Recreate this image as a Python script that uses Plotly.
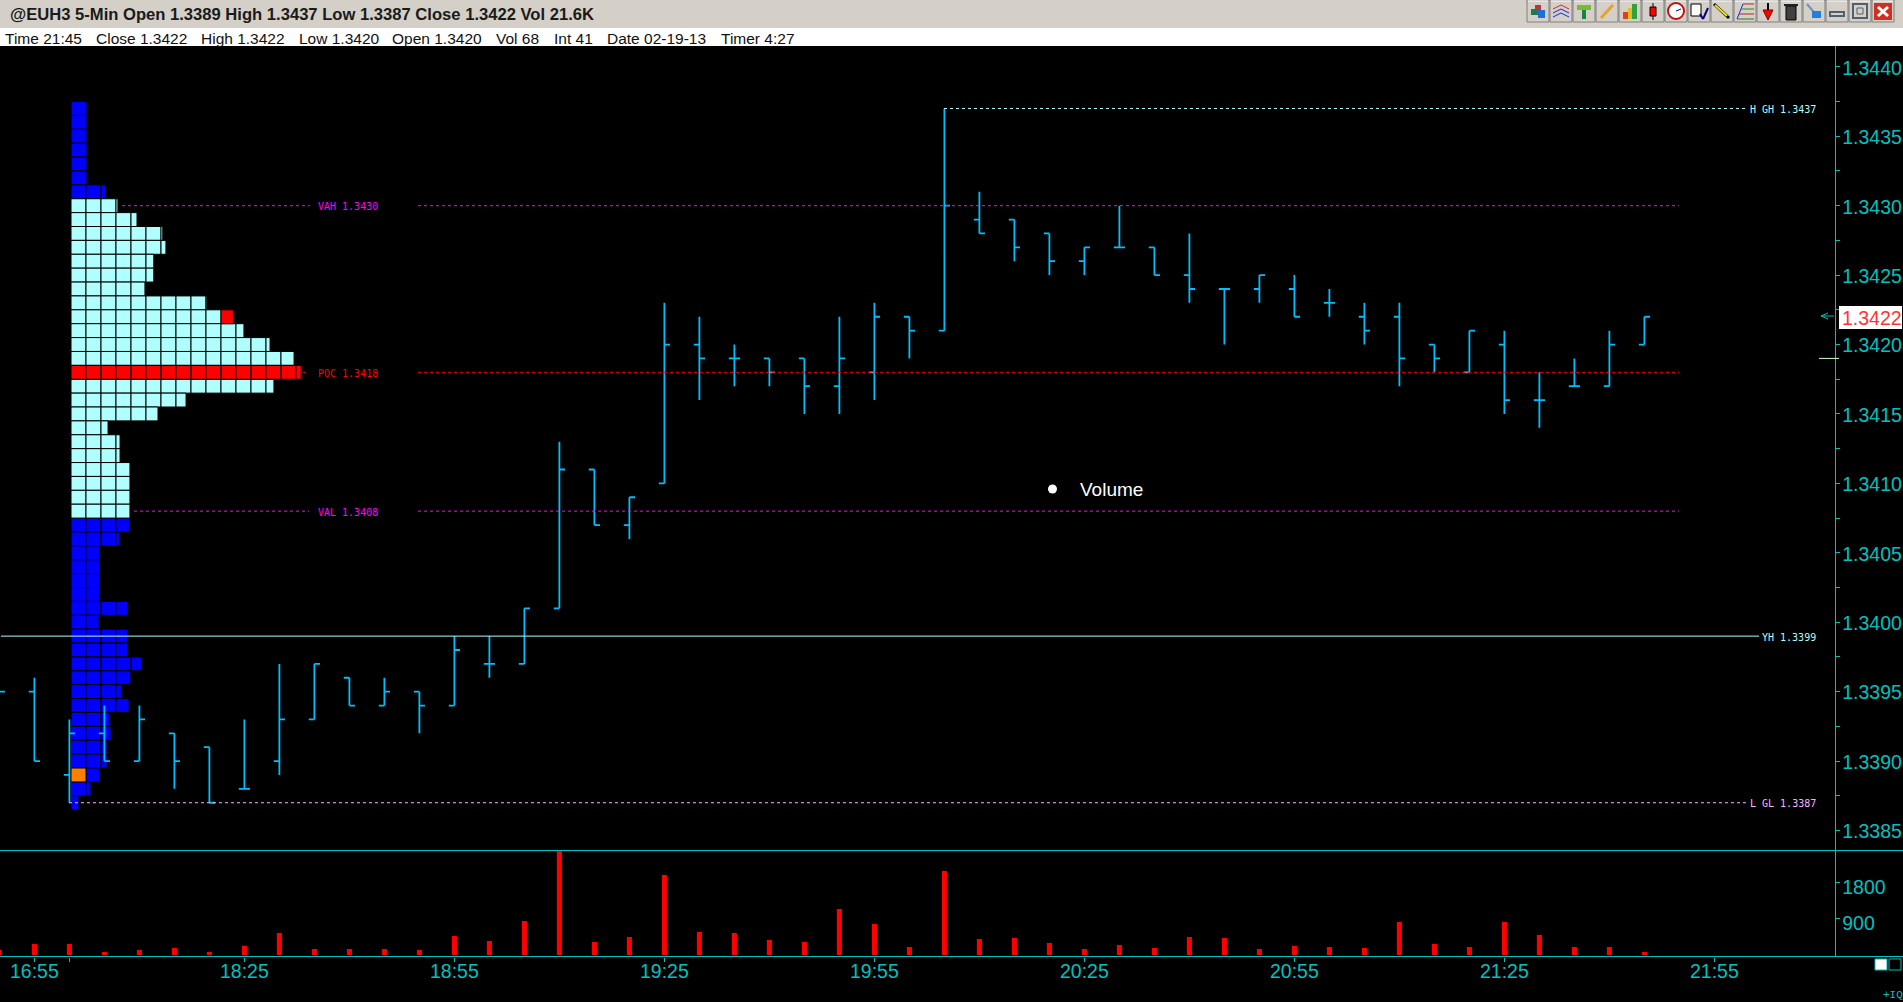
import plotly.graph_objects as go

W = 1903
H = 1002

# bars, one per 5 minute slot on the chart (index -1 is cut off by the left edge)
bar_index = [-1, 0, 1, 2, 3, 4, 5, 6, 7, 8, 9, 10, 11, 12, 13, 14, 15, 16, 17, 18, 19, 20, 21, 22, 23,
             24, 25, 26, 27, 28, 29, 30, 31, 32, 33, 34, 35, 36, 37, 38, 39, 40, 41, 42, 43, 44, 45, 46]
opens = [1.3395, 1.3395, 1.3389, 1.3392, 1.3390, 1.3392, 1.3391, 1.3388, 1.3390, 1.3393, 1.3396, 1.3394,
         1.3395, 1.3394, 1.3397, 1.3397, 1.3401, 1.3411, 1.3407, 1.3410, 1.3420, 1.3419, 1.3419, 1.3419,
         1.3417, 1.3418, 1.3422, 1.3421, 1.3429, 1.3429, 1.3428, 1.3426, 1.3427, 1.3427, 1.3425, 1.3424,
         1.3424, 1.3424, 1.3423, 1.3422, 1.3422, 1.3420, 1.3418, 1.3420, 1.3416, 1.3417, 1.3417, 1.3420]
highs = [1.3395, 1.3396, 1.3393, 1.3394, 1.3394, 1.3392, 1.3391, 1.3393, 1.3397, 1.3397, 1.3396, 1.3396,
         1.3395, 1.3399, 1.3399, 1.3401, 1.3413, 1.3411, 1.3409, 1.3423, 1.3422, 1.3420, 1.3419, 1.3419,
         1.3422, 1.3423, 1.3422, 1.3437, 1.3431, 1.3429, 1.3428, 1.3427, 1.3430, 1.3427, 1.3428, 1.3424,
         1.3425, 1.3425, 1.3424, 1.3423, 1.3423, 1.3420, 1.3421, 1.3421, 1.3418, 1.3419, 1.3421, 1.3422]
lows = [1.3395, 1.3390, 1.3387, 1.3390, 1.3390, 1.3388, 1.3387, 1.3388, 1.3389, 1.3393, 1.3394, 1.3394,
        1.3392, 1.3394, 1.3396, 1.3397, 1.3401, 1.3407, 1.3406, 1.3410, 1.3416, 1.3417, 1.3417, 1.3415,
        1.3415, 1.3416, 1.3419, 1.3421, 1.3428, 1.3426, 1.3425, 1.3425, 1.3427, 1.3425, 1.3423, 1.3420,
        1.3423, 1.3422, 1.3422, 1.3420, 1.3417, 1.3418, 1.3418, 1.3415, 1.3414, 1.3417, 1.3417, 1.3420]
closes = [1.3395, 1.3390, 1.3392, 1.3390, 1.3393, 1.3390, 1.3387, 1.3388, 1.3393, 1.3397, 1.3394, 1.3395,
          1.3394, 1.3398, 1.3397, 1.3401, 1.3411, 1.3407, 1.3409, 1.3420, 1.3419, 1.3419, 1.3418, 1.3417,
          1.3419, 1.3422, 1.3421, 1.3430, 1.3428, 1.3427, 1.3426, 1.3427, 1.3427, 1.3425, 1.3424, 1.3424,
          1.3425, 1.3422, 1.3423, 1.3421, 1.3419, 1.3419, 1.3421, 1.3416, 1.3416, 1.3417, 1.3420, 1.3422]
volumes = [125, 275, 275, 75, 125, 175, 75, 225, 550, 150, 150, 150, 125, 475, 350, 850, 2600, 325, 450,
           2000, 575, 550, 375, 325, 1150, 775, 200, 2100, 400, 425, 300, 150, 250, 175, 450, 425, 150,
           225, 200, 175, 825, 275, 200, 825, 500, 200, 200, 75]

# time axis
time_tick_index = [0, 1, 6, 12, 18, 24, 30, 36, 42, 48]
time_tick_text = ['16:55', '', '18:25', '18:55', '19:25', '19:55', '20:25', '20:55', '21:25', '21:55']

# market profile: price level and row length counted in cells
profile_prices = [1.3437, 1.3436, 1.3435, 1.3434, 1.3433, 1.3432, 1.3431, 1.3430, 1.3429, 1.3428, 1.3427,
                  1.3426, 1.3425, 1.3424, 1.3423, 1.3422, 1.3421, 1.3420, 1.3419, 1.3418, 1.3417, 1.3416,
                  1.3415, 1.3414, 1.3413, 1.3412, 1.3411, 1.3410, 1.3409, 1.3408, 1.3407, 1.3406, 1.3405,
                  1.3404, 1.3403, 1.3402, 1.3401, 1.3400, 1.3399, 1.3398, 1.3397, 1.3396, 1.3395, 1.3394,
                  1.3393, 1.3392, 1.3391, 1.3390, 1.3389, 1.3388, 1.3387]
profile_lengths = [1.13, 1.13, 1.13, 1.13, 1.13, 1.13, 2.33, 3.13, 4.4, 6.12, 6.33,
                   5.52, 5.52, 4.93, 9.06, 10.83, 11.53, 13.27, 14.87, 15.35, 13.53, 7.67,
                   5.8, 2.47, 3.27, 3.27, 3.93, 3.93, 3.93, 3.93, 3.93, 3.27, 1.93,
                   1.93, 1.93, 1.93, 3.8, 1.87, 3.8, 3.8, 4.73, 4.07, 3.4, 3.87,
                   2.6, 2.67, 2.4, 2.4, 1.93, 1.33, 0.53]
VAH = 1.3430
VAL = 1.3408
POC = 1.3418
HIGH = 1.3437
LOW = 1.3387
YH = 1.3399
LAST = 1.3422
TICK_MARK = 1.3419

volume_ticks = [900, 1800]
price_ticks = [1.3385, 1.3390, 1.3395, 1.3400, 1.3405, 1.3410, 1.3415, 1.3420, 1.3425, 1.3430, 1.3435, 1.3440]

BG = '#000000'
AXIS = '#00C0C0'
BAR = '#00BFFF'
PALE = '#AFFFFF'
MAGENTA = '#FF00FF'
PINK = '#FFB0FF'
RED = '#FF0000'
GREY = '#D4D0C8'


def px(x):
    return x / W


def py(y):
    return 1 - y / H


shapes = []
annotations = []


def add_rect(x0, y0, x1, y1, fill, line=None, width=1):
    shapes.append(dict(type='rect', xref='paper', yref='paper', x0=px(x0), x1=px(x1), y0=py(y0), y1=py(y1),
                       fillcolor=fill, line=dict(color=line or fill, width=width if line else 0)))


def add_line(x0, y0, x1, y1, color, width=1):
    shapes.append(dict(type='line', xref='paper', yref='paper', x0=px(x0), x1=px(x1), y0=py(y0), y1=py(y1),
                       line=dict(color=color, width=width)))


def add_level(x0, x1, price, color, dash='3px,3px'):
    shapes.append(dict(type='line', xref='paper', yref='y', x0=px(x0), x1=px(x1), y0=price, y1=price,
                       line=dict(color=color, width=1, dash=dash)))


def add_text(x, y, text, size, color, family='Liberation Sans', anchor='left', bg=None):
    annotations.append(dict(text=text, x=px(x), y=py(y), xref='paper', yref='paper', showarrow=False,
                            xanchor=anchor, yanchor='middle', borderpad=0, bgcolor=bg,
                            font=dict(family=family, size=size, color=color)))


def add_level_label(x, price, text, color):
    annotations.append(dict(text=text, x=px(x), y=price, xref='paper', yref='y', showarrow=False,
                            xanchor='left', yanchor='middle', borderpad=0, yshift=-1,
                            font=dict(family='DejaVu Sans Mono', size=10, color=color)))


# title strips
add_rect(0, 0, W, 28, GREY)
add_rect(0, 28, W, 46, '#FFFFFF')
add_text(9, 14, '<b>@EUH3 5-Min Open 1.3389 High 1.3437 Low 1.3387 Close 1.3422 Vol 21.6K</b>', 16.6, '#1A1A1A')
status_x = [4, 95, 200, 298, 391, 495, 553, 606, 720]
status_text = ['Time 21:45', 'Close 1.3422', 'High 1.3422', 'Low 1.3420', 'Open 1.3420', 'Vol 68', 'Int 41',
               'Date 02-19-13', 'Timer 4:27']
for sx, st in zip(status_x, status_text):
    add_text(sx, 38, st, 15.5, '#111111')

# toolbar buttons, icons are only rough
for i in range(16):
    bx = 1527 + 23 * i
    add_rect(bx, 0, bx + 22, 22, GREY, '#808080')
    add_line(bx + 1, 1, bx + 21, 1, '#FFFFFF')
b = lambda i: 1527 + 23 * i
add_rect(b(0) + 4, 9, b(0) + 11, 15, '#1F7A4D')
add_rect(b(0) + 11, 10, b(0) + 18, 18, '#1E6FD0')
add_rect(b(0) + 8, 5, b(0) + 14, 10, '#C03040')
for k, c in enumerate(['#E02020', '#2020E0', '#2020E0']):
    add_line(b(1) + 3, 9 + k * 4, b(1) + 11, 5 + k * 4, c)
    add_line(b(1) + 11, 5 + k * 4, b(1) + 19, 9 + k * 4, c)
add_rect(b(2) + 4, 5, b(2) + 18, 10, '#70C030')
add_rect(b(2) + 9, 10, b(2) + 13, 19, '#208040')
add_line(b(3) + 5, 18, b(3) + 17, 5, '#E8A030', 3)
add_rect(b(4) + 4, 12, b(4) + 9, 19, '#E04020')
add_rect(b(4) + 9, 8, b(4) + 13, 19, '#E0C020')
add_rect(b(4) + 13, 4, b(4) + 18, 19, '#30A040')
add_line(b(5) + 11, 3, b(5) + 11, 20, '#000000')
add_rect(b(5) + 8, 7, b(5) + 14, 16, '#FF0000', '#000000')
shapes.append(dict(type='circle', xref='paper', yref='paper', x0=px(b(6) + 3), x1=px(b(6) + 19), y0=py(3), y1=py(19),
                   fillcolor='#FFFFFF', line=dict(color='#C01010', width=2)))
add_line(b(6) + 11, 11, b(6) + 16, 9, '#000080')
add_rect(b(7) + 3, 4, b(7) + 13, 16, '#FFFFFF', '#000000')
add_line(b(7) + 12, 14, b(7) + 15, 19, '#000080', 2)
add_line(b(7) + 15, 19, b(7) + 20, 8, '#000080', 2)
add_line(b(8) + 3, 4, b(8) + 18, 18, '#000000', 3)
add_line(b(8) + 4, 5, b(8) + 16, 16, '#F0E020', 2)
add_line(b(9) + 3, 19, b(9) + 9, 4, '#2020E0')
add_line(b(9) + 9, 4, b(9) + 20, 4, '#C02020')
add_line(b(9) + 7, 9, b(9) + 20, 9, '#209020')
add_line(b(9) + 5, 14, b(9) + 20, 14, '#C02020')
add_line(b(9) + 3, 19, b(9) + 20, 19, '#208020')
add_line(b(10) + 11, 3, b(10) + 11, 12, '#000000', 2)
shapes.append(dict(type='path', xref='paper', yref='paper', fillcolor='#FF0000', line=dict(color='#800000', width=1),
                   path=f'M {px(b(10) + 6)} {py(10)} L {px(b(10) + 16)} {py(10)} L {px(b(10) + 11)} {py(20)} Z'))
add_rect(b(11) + 6, 6, b(11) + 16, 20, '#404040', '#000000')
add_rect(b(11) + 4, 4, b(11) + 18, 6, '#202020')
add_line(b(12) + 4, 4, b(12) + 15, 17, '#7090C0', 2)
add_rect(b(12) + 9, 11, b(12) + 18, 18, '#2080E0')
add_rect(b(13) + 4, 12, b(13) + 18, 16, GREY, '#506070', 2)
add_rect(b(14) + 4, 4, b(14) + 18, 18, GREY, '#506070', 2)
add_rect(b(14) + 8, 8, b(14) + 14, 14, GREY, '#506070', 1)
add_rect(b(15) + 2, 3, b(15) + 20, 20, '#D03020')
add_line(b(15) + 6, 7, b(15) + 16, 16, '#FFFFFF', 3)
add_line(b(15) + 16, 7, b(15) + 6, 16, '#FFFFFF', 3)

# value area, point of control and session levels
add_level(122, 310, VAH, MAGENTA)
add_level(418, 1679, VAH, MAGENTA)
add_level_label(317, VAH, 'VAH 1.3430', MAGENTA)
add_level(303, 306, POC, RED)
add_level(418, 1679, POC, RED)
add_level_label(317, POC, 'POC 1.3418', RED)
add_level(134, 309, VAL, MAGENTA)
add_level(418, 1679, VAL, MAGENTA)
add_level_label(317, VAL, 'VAL 1.3408', MAGENTA)
add_level(944, 1745, HIGH, PALE)
add_level_label(1749, HIGH, 'H GH 1.3437', PALE)
add_level(69, 1746, LOW, PINK)
add_level_label(1749, LOW, 'L GL 1.3387', PINK)
add_level(1, 1759, YH, PALE, 'solid')
add_level_label(1761, YH, 'YH 1.3399', PALE)
add_level(1819, 1839, TICK_MARK, '#CCFFCC', 'solid')

# last price marker
add_line(1821, 316, 1834, 316, AXIS)
add_line(1821, 316, 1828, 313, AXIS)
add_line(1821, 316, 1828, 319, AXIS)
add_rect(1839, 306, 1902, 329, '#FFFFFF')
add_text(1841, 317.5, '1.3422', 19.5, '#FF3333')

# panel borders run across the whole window
add_line(0, 850.5, W, 850.5, AXIS)
add_line(0, 956.5, W, 956.5, AXIS)

# legend of the volume study
shapes.append(dict(type='circle', xref='paper', yref='paper', x0=px(1048), x1=px(1057), y0=py(484.5), y1=py(493.5),
                   fillcolor='#FFFFFF', line=dict(color='#FFFFFF', width=0)))
add_text(1079, 489, 'Volume', 19, '#FFFFFF')

# bottom right corner
add_rect(1875, 959, 1887, 970, '#FFFFFF', AXIS)
add_rect(1889, 959, 1901, 970, BG, AXIS)
add_text(1882, 995, '+IQ', 11, AXIS, 'Liberation Mono')

# profile cells, cut in single cells so the grid shows
cell_groups = {}
for price, length in zip(profile_prices, profile_lengths):
    if price > VAH or price < VAL:
        color = '#0000FF'
    elif price == POC:
        color = RED
    else:
        color = PALE
    k = 0
    while k < length:
        c = color
        if price == 1.3422 and k == 10:
            c = RED
        if price == 1.3389 and k == 0:
            c = '#FF8000'
        group = cell_groups.setdefault(c, dict(y=[], base=[], x=[]))
        group['y'].append(price)
        group['base'].append(k)
        group['x'].append(min(1, length - k))
        k += 1

fig = go.Figure()

for color, group in cell_groups.items():
    fig.add_trace(go.Bar(
        y=group['y'],
        x=group['x'],
        base=group['base'],
        orientation='h',
        width=0.0001,
        marker=dict(color=color, line=dict(color=BG, width=1)),
        xaxis='x',
        yaxis='y',
        showlegend=False
    ))

fig.add_trace(go.Ohlc(
    x=bar_index,
    open=opens,
    high=highs,
    low=lows,
    close=closes,
    tickwidth=0.16,
    increasing=dict(line=dict(color=BAR, width=1.8)),
    decreasing=dict(line=dict(color=BAR, width=1.8)),
    xaxis='x3',
    yaxis='y',
    showlegend=False
))

fig.add_trace(go.Bar(
    x=bar_index,
    y=volumes,
    width=0.145,
    marker=dict(color=RED, line=dict(width=0)),
    xaxis='x2',
    yaxis='y2',
    showlegend=False
))

axis_right = 1835.3 / W
index_range = [-34.4 / 35, (1835.3 - 34.4) / 35]
tick_font = dict(family='Liberation Sans', size=19.5, color=AXIS)

fig.update_layout(
    width=W,
    height=H,
    margin=dict(l=0, r=0, t=0, b=0),
    paper_bgcolor=BG,
    plot_bgcolor=BG,
    barmode='overlay',
    showlegend=False,
    shapes=shapes,
    annotations=annotations,
    xaxis=dict(domain=[0, axis_right], range=[-71 / 15, (1835.3 - 71) / 15], visible=False, fixedrange=True),
    xaxis3=dict(domain=[0, axis_right], range=index_range, overlaying='x', anchor='y', visible=False,
                rangeslider=dict(visible=False)),
    xaxis2=dict(domain=[0, axis_right], range=index_range, anchor='y2', tickmode='array',
                tickvals=time_tick_index, ticktext=time_tick_text, ticks='outside', ticklen=4, tickcolor=AXIS,
                tickfont=tick_font, ticklabelstandoff=-7, showgrid=False, zeroline=False, showline=False),
    yaxis=dict(domain=[py(850.5), py(46)], range=[1.338356, 1.34415], side='right', anchor='x',
               tickmode='array', tickvals=price_ticks, ticktext=[f'{p:.4f}' for p in price_ticks],
               ticks='outside', ticklen=4, tickcolor=AXIS, tickfont=tick_font, ticklabelstandoff=-2,
               ticklabelshift=1, showgrid=False, zeroline=False, showline=True, linecolor=AXIS, linewidth=1,
               minor=dict(ticks='outside', ticklen=4, tickcolor=AXIS, tick0=1.33825, dtick=0.0005)),
    yaxis2=dict(domain=[py(956.5), py(850.5)], range=[-37.5, 2612], side='right', anchor='x2',
                tickmode='array', tickvals=volume_ticks, ticktext=[str(v) for v in volume_ticks],
                ticks='outside', ticklen=4, tickcolor=AXIS, tickfont=tick_font, ticklabelstandoff=-2,
                ticklabelshift=4, showgrid=False, zeroline=False, showline=True, linecolor=AXIS, linewidth=1)
)

fig.write_html("out.html", config=dict(displayModeBar=False),
               post_script="document.body.style.margin='0';document.body.style.background='#000';"
                           "document.documentElement.style.overflow='hidden';document.body.style.overflow='hidden';")
